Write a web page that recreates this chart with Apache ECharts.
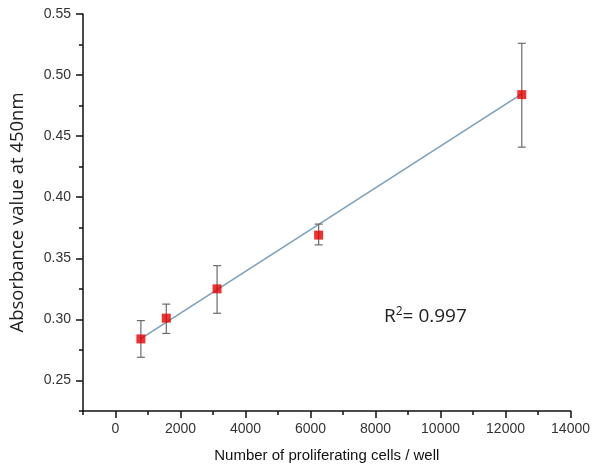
<!DOCTYPE html>
<html>
<head>
<meta charset="utf-8">
<script src="https://cdn.jsdelivr.net/npm/echarts@6/dist/echarts.min.js"></script>
<style>
  html, body { margin: 0; padding: 0; background: #fff; }
  #chart { width: 593px; height: 468px; }
</style>
</head>
<body>
<div id="chart"></div>
<script>
// cells per well and mean absorbance
var cells = [781.25, 1562.5, 3125, 6250, 12500];
var absorb = [0.284, 0.301, 0.325, 0.369, 0.484];
var errLow = [0.269, 0.2885, 0.305, 0.361, 0.441];
var errHigh = [0.299, 0.3125, 0.344, 0.378, 0.526];
// linear fit end points
var fitX = [781.25, 12500];
var fitY = [0.2842, 0.4847];
// tick positions
var xMajor = [0, 2000, 4000, 6000, 8000, 10000, 12000, 14000];
var xMinor = [-1000, 1000, 3000, 5000, 7000, 9000, 11000, 13000];
var yMajor = [0.25, 0.30, 0.35, 0.40, 0.45, 0.50, 0.55];
var yMinor = [0.225, 0.275, 0.325, 0.375, 0.425, 0.475, 0.525];

var chart = echarts.init(document.getElementById('chart'));

var points = cells.map(function (c, i) { return [c, absorb[i]]; });
var bars = cells.map(function (c, i) { return [c, errLow[i], errHigh[i]]; });
var fit = fitX.map(function (x, i) { return [x, fitY[i]]; });

var tickLine = { color: '#111', width: 1.5 };

var option = {
  animation: false,
  grid: { left: 83, right: 22, top: 14, bottom: 57 },
  xAxis: [{
    type: 'value',
    min: -1000, max: 14000, interval: 1000,
    name: 'Number of proliferating cells / well',
    nameLocation: 'middle', nameGap: 37,
    nameTextStyle: { fontFamily: 'Liberation Sans', fontSize: 15, color: '#111' },
    axisLine: { onZero: false, lineStyle: tickLine },
    axisTick: { show: true, inside: false, length: 7, customValues: xMajor, lineStyle: tickLine },
    splitLine: { show: false },
    axisLabel: {
      margin: 11, fontFamily: 'Liberation Sans', fontSize: 14, color: '#333',
      customValues: xMajor,
      formatter: function (v) { return String(v); }
    }
  }, {
    type: 'value',
    min: -1000, max: 14000, interval: 1000,
    position: 'bottom',
    axisLine: { show: false, onZero: false },
    axisTick: { show: true, inside: false, length: 4, customValues: xMinor, lineStyle: tickLine },
    axisLabel: { show: false },
    splitLine: { show: false }
  }],
  yAxis: [{
    type: 'value',
    min: 0.225, max: 0.55, interval: 0.025,
    name: 'Absorbance value at 450nm',
    nameLocation: 'middle', nameGap: 56,
    nameTextStyle: { fontFamily: 'Open Sans', fontSize: 18.5, color: '#222' },
    axisLine: { onZero: false, lineStyle: tickLine },
    axisTick: { show: true, inside: false, length: 7, customValues: yMajor, lineStyle: tickLine },
    splitLine: { show: false },
    axisLabel: {
      margin: 12, fontFamily: 'Liberation Sans', fontSize: 14, color: '#333',
      customValues: yMajor,
      formatter: function (v) { return v.toFixed(2); }
    }
  }, {
    type: 'value',
    min: 0.225, max: 0.55, interval: 0.025,
    position: 'left',
    axisLine: { show: false, onZero: false },
    axisTick: { show: true, inside: false, length: 4, customValues: yMinor, lineStyle: tickLine },
    axisLabel: { show: false },
    splitLine: { show: false }
  }],
  series: [
    {
      type: 'line',
      data: fit,
      symbol: 'none',
      lineStyle: { color: '#7a9fbd', width: 1.5 },
      z: 2
    },
    {
      type: 'custom',
      data: bars,
      renderItem: function (params, api) {
        var x = api.value(0);
        var lo = api.coord([x, api.value(1)]);
        var hi = api.coord([x, api.value(2)]);
        var cap = 4;
        var st = { stroke: '#6b6b6b', lineWidth: 1.2 };
        return {
          type: 'group',
          children: [
            { type: 'line', shape: { x1: lo[0], y1: lo[1], x2: hi[0], y2: hi[1] }, style: st },
            { type: 'line', shape: { x1: lo[0] - cap, y1: lo[1], x2: lo[0] + cap, y2: lo[1] }, style: st },
            { type: 'line', shape: { x1: hi[0] - cap, y1: hi[1], x2: hi[0] + cap, y2: hi[1] }, style: st }
          ]
        };
      },
      z: 3
    },
    {
      type: 'scatter',
      data: points,
      symbol: 'rect',
      symbolSize: 9,
      itemStyle: { color: '#e60000' },
      z: 4
    }
  ],
  graphic: [{
    type: 'text',
    left: 384, top: 306,
    style: {
      text: 'R{sup|2}= 0.997',
      fontFamily: 'Open Sans', fontSize: 19, fill: '#222',
      rich: {
        sup: { fontSize: 12, verticalAlign: 'top', padding: [0, 0, 9, 0], fontFamily: 'Open Sans', fill: '#222' }
      }
    }
  }]
};

chart.setOption(option);
</script>
</body>
</html>
